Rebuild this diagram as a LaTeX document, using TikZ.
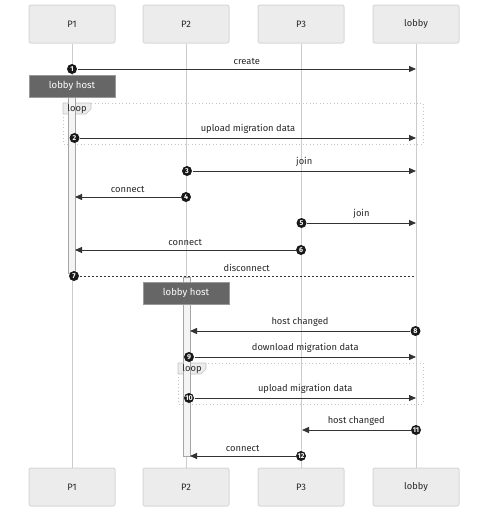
\documentclass[tikz,border=0pt]{standalone}
\usepackage{fontspec}
\setmainfont{Fira Sans}
\usetikzlibrary{arrows.meta}

\definecolor{actorfill}{RGB}{236,236,236}
\definecolor{actorline}{RGB}{216,216,216}
\definecolor{lifegray}{RGB}{204,204,204}
\definecolor{msgline}{RGB}{51,51,51}
\definecolor{notefill}{RGB}{102,102,102}
\definecolor{loopline}{RGB}{196,196,196}
\definecolor{actfill}{RGB}{244,244,244}

\tikzset{every picture/.style={line width=0.75pt}}
\tikzset{
  actor/.style={draw=actorline, fill=actorfill, rounded corners=1.5pt, minimum width=64.5pt, minimum height=28.5pt, inner sep=0.75pt, text=black!85, font=\fontsize{7}{8}\selectfont},
  notebox/.style={draw=black!40, fill=notefill, minimum width=64.5pt, minimum height=16.5pt, inner sep=0.75pt, text=white, font=\fontsize{7.2}{8}\selectfont},
  lifeline/.style={draw=lifegray, line width=0.75pt},
  actbar/.style={draw=black!35, fill=actfill, line width=0.6pt},
  loopbox/.style={draw=loopline, dotted, line width=0.6pt},
  looptab/.style={draw=loopline, fill=actorfill, line width=0.5pt},
  num/.style={circle, fill=black!90, inner sep=0pt, minimum size=7.5pt, text=white, font=\fontsize{5.3}{6}\bfseries\selectfont},
  msg/.style={draw=msgline, line width=0.75pt, -{Triangle[length=5.25pt,width=4.5pt]}},
  msgdash/.style={draw=msgline, line width=0.75pt, dash pattern=on 1.5pt off 1.5pt},
  lbl/.style={above=2.5pt, inner sep=0.75pt, text=black!85, font=\fontsize{7}{8}\selectfont}
}

\begin{document}
\begin{tikzpicture}[x=0.75pt,y=0.75pt,yscale=-1,xscale=1]
\path (0,0) rectangle (488,512); %set diagram size

% Actors top
\node [actor] (p1t) at (72,24) {P1};
\node [actor] (p2t) at (186,24) {P2};
\node [actor] (p3t) at (301,24) {P3};
\node [actor] (lobt) at (416,24) {lobby};
% Actors bottom
\node [actor] (p1b) at (72,487) {P1};
\node [actor] (p2b) at (186,487) {P2};
\node [actor] (p3b) at (301,487) {P3};
\node [actor] (lobb) at (416,487) {lobby};

% Lifelines
\draw [lifeline] (p1t) -- (p1b);
\draw [lifeline] (p2t) -- (p2b);
\draw [lifeline] (p3t) -- (p3b);
\draw [lifeline] (lobt) -- (lobb);

%Shape: Loop 1
\draw [loopbox] (63,103) rectangle (423,144);
\draw [looptab] (63,103) -- (91,103) -- (91,109) -- (86,114) -- (63,114) -- cycle;
%Shape: Loop 2
\draw [loopbox] (178,363) rectangle (423,404);
\draw [looptab] (178,363) -- (206,363) -- (206,369) -- (201,374) -- (178,374) -- cycle;

%Shape: Activation bars
\draw [actbar] (68,97) rectangle (75,273);
\draw [actbar] (183,277) rectangle (190,456);

% Text Node
\node [inner sep=0.75pt, text=black!85, font=\fontsize{7}{8}\selectfont] (loopa) at (77,108.5) {loop};
\node [inner sep=0.75pt, text=black!85, font=\fontsize{7}{8}\selectfont] (loopb) at (192,368.5) {loop};

% Notes
\node [notebox] (hosta) at (72,86) {lobby host};
\node [notebox] (hostb) at (186,293) {lobby host};

% Messages
\node [num] (n1) at (72,69) {1};
\coordinate (t1) at (416,69);
\draw [msg] (n1) -- node [lbl] {create} (t1);

\node [num] (n2) at (74.5,138) {2};
\coordinate (t2) at (416,138);
\draw [msg] (n2) -- node [lbl] {upload migration data} (t2);

\node [num] (n3) at (187,171) {3};
\coordinate (t3) at (416,171);
\draw [msg] (n3) -- node [lbl] {join} (t3);

\node [num] (n4) at (186,197) {4};
\coordinate (t4) at (75,197);
\draw [msg] (n4) -- node [lbl] {connect} (t4);

\node [num] (n5) at (301.5,223) {5};
\coordinate (t5) at (416,223);
\draw [msg] (n5) -- node [lbl] {join} (t5);

\node [num] (n6) at (301,250) {6};
\coordinate (t6) at (75,250);
\draw [msg] (n6) -- node [lbl] {connect} (t6);

\node [num] (n7) at (74,276) {7};
\coordinate (t7) at (414,276);
\draw [msgdash] (n7) -- node [lbl] {disconnect} (t7);

\node [num] (n8) at (415.5,331) {8};
\coordinate (t8) at (190,331);
\draw [msg] (n8) -- node [lbl] {host changed} (t8);

\node [num] (n9) at (189,357) {9};
\coordinate (t9) at (416,357);
\draw [msg] (n9) -- node [lbl] {download migration data} (t9);

\node [num] (n10) at (189,398) {10};
\coordinate (t10) at (416,398);
\draw [msg] (n10) -- node [lbl] {upload migration data} (t10);

\node [num] (n11) at (416,430) {11};
\coordinate (t11) at (302,430);
\draw [msg] (n11) -- node [lbl] {host changed} (t11);

\node [num] (n12) at (301,456) {12};
\coordinate (t12) at (190,456);
\draw [msg] (n12) -- node [lbl] {connect} (t12);

\end{tikzpicture}
\end{document}
